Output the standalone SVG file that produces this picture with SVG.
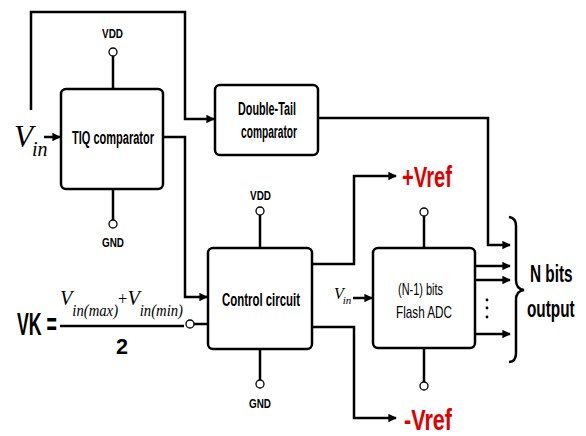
<svg xmlns="http://www.w3.org/2000/svg" width="586" height="436" viewBox="0 0 586 436">
<defs>
<marker id="ah" viewBox="0 0 10 10" refX="9" refY="5" markerWidth="3.6" markerHeight="3.4" markerUnits="strokeWidth" orient="auto">
<path d="M0,0 L10,5 L0,10 Z" fill="#000"/>
</marker>
</defs>
<style>
.box{fill:#fff;stroke:#000;stroke-width:2.5}
.w{fill:none;stroke:#000;stroke-width:2.5}
.a{fill:none;stroke:#000;stroke-width:2.5;marker-end:url(#ah)}
.t{font-family:"Liberation Sans",Arial,sans-serif;font-weight:bold;fill:#000}
.n{font-family:"Liberation Sans",Arial,sans-serif;fill:#000}
.s{font-family:"Liberation Serif","Times New Roman",serif;font-style:italic;fill:#000}
.pin{fill:#fff;stroke:#000;stroke-width:1.3}
.red{font-family:"Liberation Sans",Arial,sans-serif;font-weight:bold;fill:#e00000}
</style>
<rect width="586" height="436" fill="#fff"/>

<g id="connectors">
<path class="a" d="M31,110 V12 H185 V119 H214"/>
<path class="a" d="M163,137 H185 V297 H207"/>
<path class="a" d="M318,118 H488 V245 H510"/>
<path class="a" d="M312,264 H354 V176 H396"/>
<path class="a" d="M312,327 H354 V418 H396"/>
<path class="a" d="M44,137 H60"/>
<path class="a" d="M353,298 H372"/>
<path class="a" d="M475,266 H510"/>
<path class="a" d="M475,280 H510"/>
<path class="a" d="M475,334 H510"/>
<path class="w" d="M194,324 H208"/>
<path class="w" d="M113,56 V89 M113,189 V220 M260,215 V248 M260,349 V380 M424,216 V248 M424,348 V382"/>
</g>

<g id="tiq">
<rect class="box" x="61" y="89" width="102" height="100" rx="5"/>
<text class="t" x="72" y="144" font-size="18" textLength="82" lengthAdjust="spacingAndGlyphs">TIQ comparator</text>
<circle class="pin" cx="113" cy="52" r="4"/>
<text class="t" x="102" y="38" font-size="13" textLength="21" lengthAdjust="spacingAndGlyphs">VDD</text>
<circle class="pin" cx="113" cy="224" r="4"/>
<text class="t" x="102" y="247" font-size="13" textLength="22" lengthAdjust="spacingAndGlyphs">GND</text>
</g>

<g id="doubletail">
<rect class="box" x="215" y="85" width="103" height="70" rx="5"/>
<text class="t" x="238" y="115" font-size="18" textLength="58" lengthAdjust="spacingAndGlyphs">Double-Tail</text>
<text class="t" x="241" y="138" font-size="18" textLength="56" lengthAdjust="spacingAndGlyphs">comparator</text>
</g>

<g id="control">
<rect class="box" x="208" y="248" width="104" height="101" rx="5"/>
<text class="t" x="222" y="306" font-size="18" textLength="78" lengthAdjust="spacingAndGlyphs">Control circuit</text>
<circle class="pin" cx="260" cy="211" r="4"/>
<text class="t" x="250" y="200" font-size="13" textLength="21" lengthAdjust="spacingAndGlyphs">VDD</text>
<circle class="pin" cx="260" cy="384" r="4"/>
<text class="t" x="249" y="408" font-size="13" textLength="22" lengthAdjust="spacingAndGlyphs">GND</text>
</g>

<g id="flash">
<rect class="box" x="373" y="248" width="102" height="100" rx="5"/>
<text class="n" x="398" y="295" font-size="17" textLength="45" lengthAdjust="spacingAndGlyphs">(N-1) bits</text>
<text class="n" x="396" y="318" font-size="17" textLength="56" lengthAdjust="spacingAndGlyphs">Flash ADC</text>
<circle class="pin" cx="424" cy="212" r="4"/>
<circle class="pin" cx="424" cy="386" r="4"/>
<circle cx="487" cy="300" r="1.4" fill="#000"/>
<circle cx="487" cy="308" r="1.4" fill="#000"/>
<circle cx="487" cy="317" r="1.4" fill="#000"/>
</g>

<g id="vin">
<text class="s" x="14" y="147" font-size="31">V<tspan font-size="20" dy="9" dx="-1">in</tspan></text>
</g>

<g id="vin2">
<text class="s" x="334" y="299" font-size="16">V<tspan font-size="11" dy="5" dx="-1">in</tspan></text>
</g>

<g id="vk">
<text class="t" x="17" y="335" font-size="31" textLength="40" lengthAdjust="spacingAndGlyphs">VK =</text>
<text class="s" x="60" y="305" font-size="22" textLength="123" lengthAdjust="spacingAndGlyphs">V<tspan font-size="16" dy="11">in(max)</tspan><tspan font-size="18" font-style="normal" dy="-11">+</tspan>V<tspan font-size="16" dy="11">in(min)</tspan></text>
<path class="w" d="M60,326 H184" stroke-width="2"/>
<text class="t" x="116" y="354" font-size="22" textLength="12" lengthAdjust="spacingAndGlyphs">2</text>
<circle class="pin" cx="190" cy="324" r="4"/>
</g>

<g id="vref">
<text class="red" x="402" y="187" font-size="30" textLength="50" lengthAdjust="spacingAndGlyphs">+Vref</text>
<text class="red" x="404" y="430" font-size="30" textLength="48" lengthAdjust="spacingAndGlyphs">-Vref</text>
</g>

<g id="output">
<path class="w" stroke-width="2" d="M509,217 Q516,218 516,226 V280 Q516,289 524,290 Q516,291 516,300 V353 Q516,362 509,362"/>
<text class="t" font-size="24" transform="translate(530,282) scale(0.64,1)">N bits</text>
<text class="t" font-size="24" transform="translate(527,317) scale(0.64,1)">output</text>
</g>
</svg>
